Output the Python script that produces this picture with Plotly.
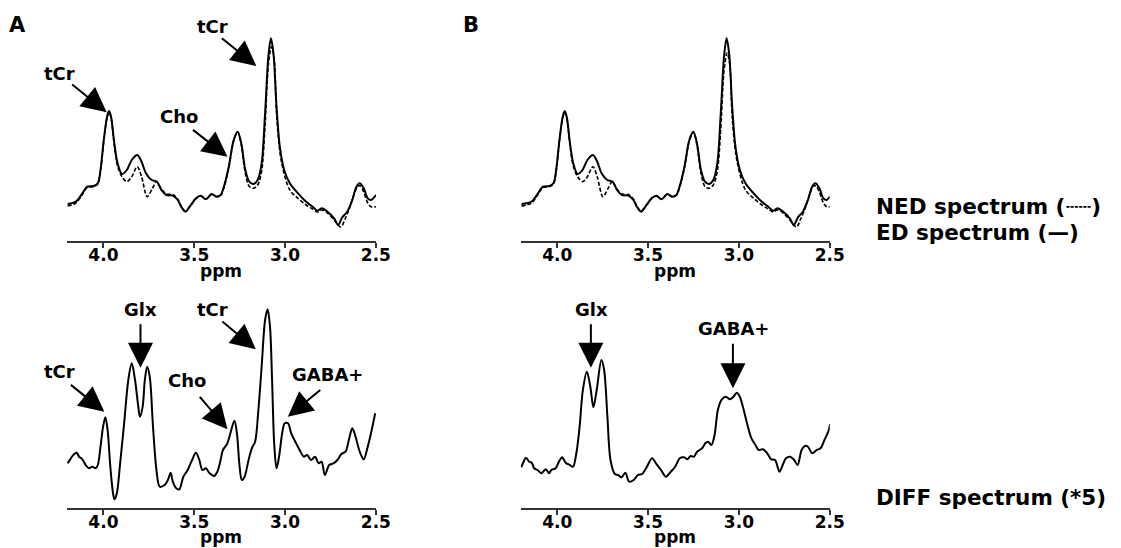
import plotly.graph_objects as go

W, H = 1121, 548

# ---------------- data (ppm, amplitude in arbitrary units) ----------------
# Panel A, top: ED (solid) and NED (dashed) spectra
a_ed_ppm = [4.197, 4.152, 4.116, 4.089, 4.053, 4.031, 4.016, 3.998, 3.980, 3.969, 3.958, 3.940, 3.922, 3.898,
            3.871, 3.844, 3.814, 3.790, 3.766, 3.735, 3.705, 3.681, 3.654, 3.618, 3.591, 3.572, 3.549, 3.518,
            3.491, 3.464, 3.436, 3.404, 3.379, 3.355, 3.337, 3.310, 3.283, 3.261, 3.241, 3.219, 3.197, 3.174,
            3.151, 3.129, 3.110, 3.092, 3.078, 3.064, 3.047, 3.029, 3.005, 2.974, 2.929, 2.884, 2.848, 2.821,
            2.799, 2.766, 2.730, 2.708, 2.685, 2.658, 2.630, 2.607, 2.589, 2.567, 2.545, 2.527, 2.500]
a_ed_val = [37, 39.3, 47.7, 54.3, 55, 57.7, 71, 101, 124.3, 130, 124.3, 97.7, 77.7, 67,
            71, 81, 86, 79.3, 67.7, 61, 59.3, 51, 46, 45.3, 41, 34.3, 29.3, 36,
            42.7, 45.3, 41.7, 47, 44.3, 46, 54.3, 74.3, 101, 109.3, 97.7, 71, 59.3, 57,
            61, 77.7, 127.7, 184.3, 202.7, 187.7, 134.3, 94.3, 71, 57.7, 47.7, 39.3, 34.3, 30.3,
            32.7, 29.3, 22.7, 16, 23.7, 29.3, 41, 54.3, 57.7, 52.7, 42.7, 41, 46]

a_ned_ppm = [4.197, 4.152, 4.116, 4.089, 4.053, 4.031, 4.016, 3.998, 3.980, 3.969, 3.958, 3.940, 3.922, 3.898,
             3.871, 3.844, 3.814, 3.790, 3.759, 3.730, 3.708, 3.681, 3.654, 3.618, 3.591, 3.572, 3.549, 3.518,
             3.491, 3.464, 3.436, 3.404, 3.379, 3.355, 3.337, 3.310, 3.283, 3.261, 3.241, 3.219, 3.197, 3.174,
             3.151, 3.129, 3.110, 3.092, 3.075, 3.060, 3.047, 3.020, 2.974, 2.929, 2.884, 2.848, 2.821, 2.799,
             2.766, 2.730, 2.693, 2.670, 2.645, 2.620, 2.600, 2.585, 2.567, 2.545, 2.527, 2.500]
a_ned_val = [35, 38, 46.5, 53.5, 54.5, 57, 70, 100, 123, 128.5, 123, 96, 75, 64.3,
             59.3, 64.3, 74.3, 64.3, 44.3, 52.7, 59.3, 52, 47, 46.5, 42, 35, 30, 36.5,
             42, 45, 42, 46.5, 44.5, 45.5, 53, 73, 100, 109, 96, 68, 54.5, 52.7,
             56, 70, 116, 176, 194.3, 182, 128, 79.3, 51, 42.7, 36, 32, 29, 31,
             28, 21, 14, 22, 33, 47, 55, 55, 49, 38, 34.3, 34.3]

# Panel B, top
b_ed_ppm = [4.197, 4.142, 4.106, 4.079, 4.043, 4.021, 4.006, 3.988, 3.970, 3.959, 3.948, 3.930, 3.912, 3.888,
            3.861, 3.834, 3.804, 3.780, 3.756, 3.725, 3.695, 3.671, 3.644, 3.608, 3.581, 3.562, 3.539, 3.508,
            3.481, 3.454, 3.426, 3.394, 3.369, 3.345, 3.327, 3.300, 3.273, 3.251, 3.231, 3.209, 3.187, 3.164,
            3.141, 3.119, 3.100, 3.082, 3.068, 3.054, 3.037, 3.019, 2.995, 2.964, 2.919, 2.874, 2.838, 2.811,
            2.789, 2.756, 2.720, 2.698, 2.675, 2.648, 2.620, 2.597, 2.579, 2.557, 2.535, 2.517, 2.500]
b_ed_val = [37, 39.3, 47.7, 54.3, 55, 57.7, 71, 101, 124.3, 130, 124.3, 97.7, 77.7, 67,
            71, 81, 86, 79.3, 67.7, 61, 59.3, 51, 46, 45.3, 41, 34.3, 29.3, 36,
            42.7, 45.3, 41.7, 47, 44.3, 46, 54.3, 74.3, 101, 109.3, 97.7, 71, 59.3, 57,
            61, 77.7, 127.7, 184.3, 202.7, 187.7, 134.3, 94.3, 71, 57.7, 47.7, 39.3, 34.3, 30.3,
            32.7, 29.3, 22.7, 16, 23.7, 29.3, 41, 54.3, 57.7, 52.7, 42.7, 41, 44.3]

b_ned_ppm = [4.197, 4.142, 4.106, 4.079, 4.043, 4.021, 4.006, 3.988, 3.970, 3.959, 3.948, 3.930, 3.912, 3.888,
             3.861, 3.834, 3.804, 3.780, 3.749, 3.720, 3.698, 3.671, 3.644, 3.608, 3.581, 3.562, 3.539, 3.508,
             3.481, 3.454, 3.426, 3.394, 3.369, 3.345, 3.327, 3.300, 3.273, 3.251, 3.231, 3.209, 3.187, 3.164,
             3.141, 3.119, 3.100, 3.082, 3.065, 3.050, 3.037, 3.010, 2.964, 2.919, 2.874, 2.838, 2.811, 2.789,
             2.756, 2.720, 2.683, 2.660, 2.635, 2.610, 2.590, 2.575, 2.557, 2.535, 2.517, 2.500]
b_ned_val = [35, 38, 46.5, 53.5, 54.5, 57, 70, 100, 123, 128.5, 123, 96, 75, 64.3,
             59.3, 64.3, 74.3, 64.3, 44.3, 52.7, 59.3, 52, 47, 46.5, 42, 35, 30, 36.5,
             42, 45, 42, 46.5, 44.5, 45.5, 53, 73, 100, 109, 96, 68, 54.5, 52.7,
             56, 70, 112, 170, 188, 176, 124, 79.3, 51, 42.7, 36, 32, 29, 31,
             28, 21, 14, 22, 33, 47, 55, 55, 49, 38, 34.3, 34.3]

# Panel A, bottom: DIFF spectrum (*5)
a_diff_ppm = [4.197, 4.179, 4.161, 4.147, 4.134, 4.116, 4.098, 4.080, 4.061, 4.043, 4.031, 4.016, 4.002, 3.989,
              3.977, 3.962, 3.947, 3.939, 3.926, 3.908, 3.886, 3.863, 3.844, 3.826, 3.808, 3.799, 3.784, 3.772,
              3.759, 3.745, 3.727, 3.708, 3.690, 3.663, 3.645, 3.630, 3.618, 3.599, 3.582, 3.560, 3.536, 3.512,
              3.491, 3.473, 3.455, 3.436, 3.415, 3.391, 3.373, 3.355, 3.342, 3.319, 3.301, 3.279, 3.265, 3.252,
              3.238, 3.223, 3.201, 3.183, 3.165, 3.147, 3.129, 3.110, 3.096, 3.083, 3.071, 3.060, 3.047, 3.033,
              3.016, 3.002, 2.984, 2.966, 2.939, 2.915, 2.897, 2.879, 2.857, 2.835, 2.815, 2.799, 2.781, 2.757,
              2.734, 2.712, 2.690, 2.667, 2.649, 2.630, 2.612, 2.589, 2.567, 2.545, 2.527, 2.504]
a_diff_val = [44.7, 49.7, 54, 55.3, 51.3, 48.7, 43, 39.7, 41.3, 39.7, 43, 61.3, 81.3, 90.7,
              78, 41.3, 14.7, 8.7, 14.7, 44.7, 84.7, 128, 144.7, 128, 101.3, 91.3, 101.3, 128,
              141.3, 131.3, 81.3, 38, 21.3, 23, 28, 35.3, 26.3, 19.7, 18.7, 31.3, 38, 48,
              55.3, 48.7, 38, 39.7, 34.7, 32, 36.3, 48, 58, 64, 74.7, 87.3, 74.7, 44.7,
              28, 31.3, 48, 59.7, 66.3, 98, 141.3, 188, 198.7, 181.3, 124.7, 64.7, 39.7, 51.3,
              74.7, 84.7, 84.7, 74.7, 64.7, 56.3, 51.3, 53, 48, 51.3, 44.7, 46.3, 33, 43,
              44.7, 48, 54, 56.3, 68, 79.7, 71.3, 56.3, 48.7, 61.3, 74.7, 94.7]

# Panel B, bottom: DIFF spectrum (*5)
b_diff_ppm = [4.199, 4.185, 4.172, 4.154, 4.141, 4.127, 4.109, 4.087, 4.063, 4.045, 4.033, 4.009, 3.991, 3.973,
              3.954, 3.931, 3.913, 3.895, 3.877, 3.859, 3.837, 3.818, 3.801, 3.783, 3.757, 3.742, 3.724, 3.707,
              3.683, 3.665, 3.647, 3.625, 3.605, 3.579, 3.556, 3.533, 3.511, 3.478, 3.457, 3.429, 3.402, 3.375,
              3.351, 3.326, 3.302, 3.284, 3.266, 3.248, 3.230, 3.203, 3.185, 3.170, 3.152, 3.134, 3.116, 3.094,
              3.072, 3.049, 3.030, 3.012, 2.995, 2.976, 2.953, 2.931, 2.909, 2.891, 2.867, 2.844, 2.822, 2.801,
              2.777, 2.759, 2.741, 2.717, 2.696, 2.677, 2.655, 2.637, 2.620, 2.596, 2.572, 2.551, 2.529, 2.505,
              2.498]
b_diff_val = [40.7, 46.3, 50.3, 46.3, 45.3, 39.7, 38, 34.7, 38.7, 34.7, 38, 39.7, 46.3, 50.7,
              45.3, 43, 41.3, 54.7, 81.3, 118, 136.3, 121.3, 100.7, 118, 148, 138, 91.3, 48,
              34, 33, 30.7, 35.3, 26.3, 28, 33, 34, 39.7, 49.7, 44.7, 38, 31.3, 36.3,
              41.3, 49.7, 50.7, 48.7, 52, 51.3, 56.3, 59.7, 64.7, 66.3, 63, 73, 98, 108.7,
              111.3, 108.7, 111.3, 115.3, 111.3, 99.7, 83, 69.7, 63, 58, 58.7, 54.7, 48.7, 48,
              36.3, 43, 49.7, 51.3, 48, 43, 58, 62, 61.3, 54.7, 58, 59.7, 68, 78,
              84]

tick_vals = [4.0, 3.5, 3.0, 2.5]
tick_text = ["4.0", "3.5", "3.0", "2.5"]

# ---------------- figure ----------------
FONT = "DejaVu Sans"
fig = go.Figure()

def add_line(x, y, xa, ya, dashed=False):
    fig.add_trace(go.Scatter(
        x=x, y=y, xaxis=xa, yaxis=ya, mode="lines",
        line=dict(color="black", width=1.6 if dashed else 2.0,
                  dash="4px,2px" if dashed else "solid", shape="spline", smoothing=0.9),
        showlegend=False, hoverinfo="skip"))

add_line(a_ned_ppm, a_ned_val, "x", "y", dashed=True)
add_line(a_ed_ppm, a_ed_val, "x", "y")
add_line(b_ned_ppm, b_ned_val, "x2", "y2", dashed=True)
add_line(b_ed_ppm, b_ed_val, "x2", "y2")
add_line(a_diff_ppm, a_diff_val, "x3", "y3")
add_line(b_diff_ppm, b_diff_val, "x4", "y4")

def px_x(p):
    return p / W

def px_y(p):
    return 1 - p / H

left_dom = [px_x(68), px_x(381)]
right_dom = [px_x(528), px_x(841)]
top_dom = [px_y(241), 1.0]
bot_dom = [px_y(508), px_y(280)]

xcommon = dict(range=[4.2, 2.5], tickvals=tick_vals, ticktext=tick_text, showline=True,
               linecolor="#333333", linewidth=1.5, ticks="outside", ticklen=5, tickwidth=1.5,
               tickcolor="#333333", showgrid=False, zeroline=False, ticklabelstandoff=-7,
               tickfont=dict(family=FONT, size=17, color="black", weight="bold"))
ycommon = dict(visible=False, showgrid=False, zeroline=False)

fig.update_layout(
    width=W, height=H, margin=dict(l=0, r=0, t=0, b=0),
    paper_bgcolor="white", plot_bgcolor="white",
    xaxis=dict(domain=left_dom, anchor="y", **xcommon),
    yaxis=dict(domain=top_dom, anchor="x", range=[0, 241], **ycommon),
    xaxis2=dict(domain=right_dom, anchor="y2", **xcommon),
    yaxis2=dict(domain=top_dom, anchor="x2", range=[0, 241], **ycommon),
    xaxis3=dict(domain=left_dom, anchor="y3", **xcommon),
    yaxis3=dict(domain=bot_dom, anchor="x3", range=[0, 228], **ycommon),
    xaxis4=dict(domain=right_dom, anchor="y4", **xcommon),
    yaxis4=dict(domain=bot_dom, anchor="x4", range=[0, 228], **ycommon),
)

ann = []

def text(s, x, y, size=18, xanchor="center"):
    ann.append(dict(text=s, x=px_x(x), y=px_y(y), xref="paper", yref="paper",
                    xanchor=xanchor, yanchor="middle", showarrow=False,
                    font=dict(family=FONT, size=size, color="black", weight="bold")))

def arrow(xa, ya, x, y, ax, ay):
    ann.append(dict(text="", x=x, y=y, xref=xa, yref=ya, ax=ax, ay=ay,
                    axref="pixel", ayref="pixel", showarrow=True,
                    arrowhead=2, arrowsize=2.5, arrowwidth=2, arrowcolor="black"))

# panel letters
text("A", 18, 25, size=21)
text("B", 477, 25, size=21)

# axis titles
for cx in (224.5, 684.5):
    text("ppm", cx, 271, size=17)
    text("ppm", cx, 537, size=17)

# legend-like texts
text("NED spectrum (┄┄)", 886, 206, size=21.5, xanchor="left")
text("ED spectrum (—)", 886, 232.5, size=21.5, xanchor="left")
text("DIFF spectrum (*5)", 886, 498, size=21.5, xanchor="left")

# Panel A top labels
text("tCr", 60, 73)
arrow("x", "y", 3.982, 128.7, -36, -29)
text("tCr", 215, 27)
arrow("x", "y", 3.158, 175, -36, -29)
text("Cho", 181.7, 116.7)
arrow("x", "y", 3.317, 84.3, -36, -28)

# Panel A bottom labels
text("tCr", 60, 371.7)
arrow("x3", "y3", 3.995, 96.3, -35, -28)
text("Glx", 142.7, 309.3)
arrow("x3", "y3", 3.796, 140.3, 0, -45)
text("tCr", 215, 309.3)
arrow("x3", "y3", 3.161, 158.7, -35, -29)
text("Cho", 190, 380)
arrow("x3", "y3", 3.317, 78.7, -29, -34)
text("GABA+", 331.7, 374.3)
arrow("x3", "y3", 2.985, 91.3, 34, -28)

# Panel B bottom labels
text("Glx", 599.3, 309.3)
arrow("x4", "y4", 3.815, 140.3, 0, -45)
text("GABA+", 743.3, 328.3)
arrow("x4", "y4", 3.033, 119.7, 0, -46)

fig.update_layout(annotations=ann)

fig.write_html("out.html")
